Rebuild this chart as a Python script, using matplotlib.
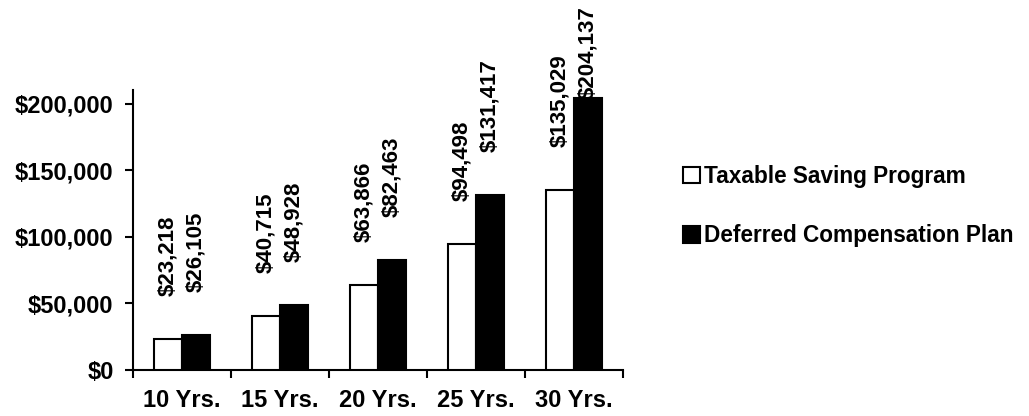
import matplotlib
matplotlib.use("Agg")
import matplotlib.pyplot as plt
from matplotlib.patches import Patch
import numpy as np

categories = ["10 Yrs.", "15 Yrs.", "20 Yrs.", "25 Yrs.", "30 Yrs."]
taxable = [23218, 40715, 63866, 94498, 135029]
deferred = [26105, 48928, 82463, 131417, 204137]
series_names = ["Taxable Saving Program", "Deferred Compensation Plan"]
yticks = [0, 50000, 100000, 150000, 200000]

plt.rcParams['font.family'] = ['Liberation Sans', 'DejaVu Sans']
plt.rcParams['font.weight'] = 'bold'

W, H = 1029, 416
fig = plt.figure(figsize=(W / 100, H / 100), dpi=100)
ax = fig.add_axes([133 / W, (416 - 370) / H, (623 - 133) / W, (370 - 90) / H])

x = np.arange(len(categories))
w = 0.29
ax.bar(x - w / 2, taxable, w, color='white', edgecolor='black', linewidth=1.5, zorder=3)
ax.bar(x + w / 2, deferred, w, color='black', edgecolor='black', linewidth=1.5, zorder=3)

ax.set_xlim(-0.5, len(categories) - 0.5)
ax.set_ylim(0, 210526)

def fmt(v):
    return "${:,}".format(v)

off = 32300
cap = 204000
for xi, v in zip(x - w / 2, taxable):
    ax.text(xi, min(v + off, cap), fmt(v), rotation=90, ha='center', va='bottom',
            fontsize=16, fontweight='bold', clip_on=False)
for xi, v in zip(x + w / 2, deferred):
    ax.text(xi, min(v + off, cap), fmt(v), rotation=90, ha='center', va='bottom',
            fontsize=16, fontweight='bold', clip_on=False)

ax.set_yticks(yticks)
ax.set_yticklabels([fmt(v) for v in yticks], fontsize=17, fontweight='bold')
ax.set_xticks(np.arange(len(categories) + 1) - 0.5)
ax.set_xticklabels([])
ax.set_xticks(x, minor=True)
ax.set_xticklabels(categories, minor=True, fontsize=17, fontweight='bold')
ax.tick_params(axis='x', which='minor', length=0, pad=14)
ax.tick_params(axis='x', which='major', direction='out', length=6, width=1.5)
ax.tick_params(axis='y', direction='out', length=6, width=1.5, pad=8)

for s in ['top', 'right']:
    ax.spines[s].set_visible(False)
for s in ['left', 'bottom']:
    ax.spines[s].set_linewidth(1.5)

handles = [Patch(facecolor='white', edgecolor='black', linewidth=1.5),
           Patch(facecolor='black', edgecolor='black', linewidth=1.5)]
fig.legend(handles, series_names, loc='center left', bbox_to_anchor=(672 / W, 1 - 206 / H),
           frameon=False, prop={'size': 16.3, 'weight': 'bold'}, handlelength=0.75,
           handleheight=0.75, handletextpad=0.15, labelspacing=1.6, borderpad=0)

fig.savefig("out.png", dpi=100)
